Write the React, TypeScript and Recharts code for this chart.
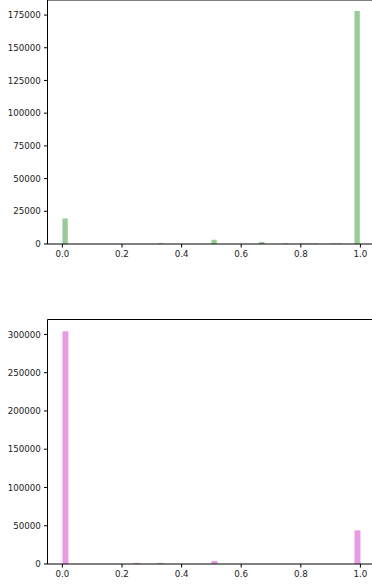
import { Bar, BarChart, ReferenceLine, XAxis, YAxis } from "recharts"

// histogram bins (left edge, bin width 0.02) that hold anything visible
const greenBins = [0.0, 0.32, 0.5, 0.66, 0.74, 0.8, 0.82, 0.84, 0.9, 0.92, 0.98]
const greenCounts = [19500, 600, 3200, 1600, 500, 400, 400, 400, 400, 400, 178000]
const greenTicks = [0, 25000, 50000, 75000, 100000, 125000, 150000, 175000]

const pinkBins = [0.0, 0.24, 0.32, 0.5, 0.98]
const pinkCounts = [304000, 1300, 1300, 4000, 44000]
const pinkTicks = [0, 50000, 100000, 150000, 200000, 250000, 300000]

const xTicks = [0, 0.2, 0.4, 0.6, 0.8, 1.0]
const binWidth = 0.02

const font = { fontFamily: "DejaVu Sans", fontSize: 8.7, fill: "#222" }

function Hist({ bins, counts, yTicks, yMax, color, top, height, marginTop }: any) {
  const data = bins.map((b: number, i: number) => ({ x: b + binWidth / 2, count: counts[i] }))
  return (
    <div style={{ position: "absolute", left: 0, top }}>
      <BarChart
        width={376}
        height={height}
        data={data}
        margin={{ top: marginTop, right: 0.7, bottom: 6, left: 0 }}
        barCategoryGap={0}
      >
        <XAxis
          dataKey="x"
          type="number"
          domain={[-0.05, 1.05]}
          ticks={xTicks}
          tickFormatter={(v: number) => v.toFixed(1)}
          tick={font}
          tickSize={3.5}
          tickMargin={3.5}
          height={20}
          stroke="#000"
          allowDataOverflow
        />
        <YAxis
          type="number"
          domain={[0, yMax]}
          ticks={yTicks}
          tick={font}
          tickSize={3.5}
          tickMargin={3.2}
          width={47.5}
          stroke="#000"
          allowDataOverflow
        />
        <ReferenceLine y={yMax} stroke="#000" />
        <Bar dataKey="count" fill={color} barSize={5.96} isAnimationActive={false} />
      </BarChart>
    </div>
  )
}

export default function App() {
  return (
    <div style={{ position: "fixed", left: 0, top: 0, width: 372, height: 585, overflow: "hidden", background: "#fff" }}>
      <Hist bins={greenBins} counts={greenCounts} yTicks={greenTicks} yMax={186500} color="#98cb98" top={0} height={270} marginTop={0} />
      <Hist bins={pinkBins} counts={pinkCounts} yTicks={pinkTicks} yMax={319500} color="#e69be3" top={300} height={290} marginTop={19.5} />
    </div>
  )
}
